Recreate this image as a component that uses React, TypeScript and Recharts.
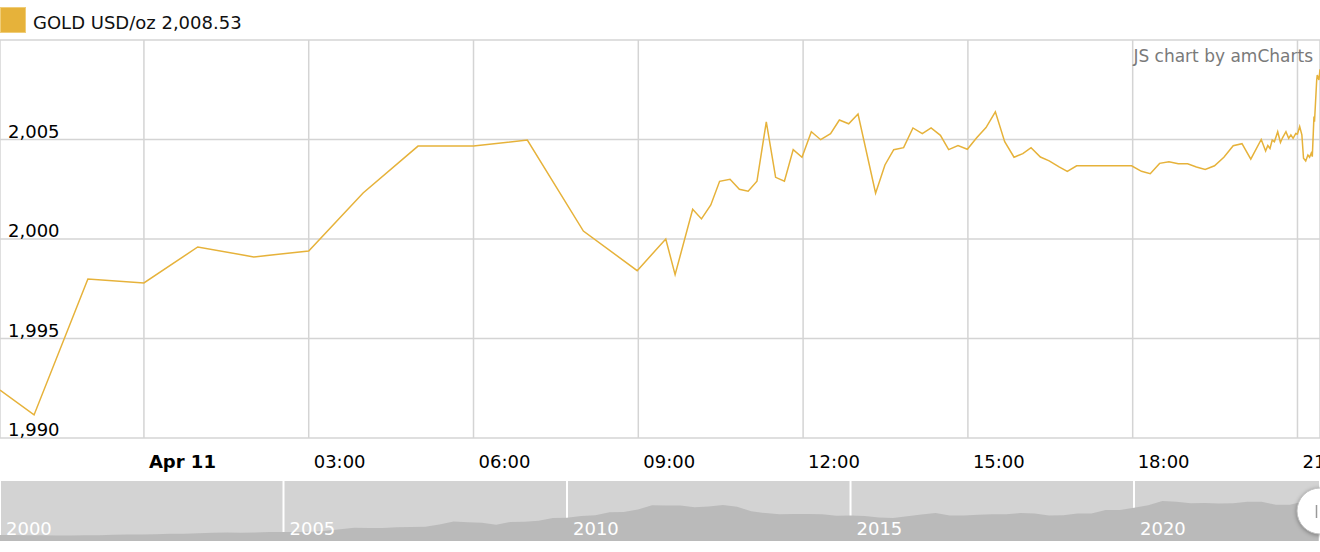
import { Area, AreaChart, CartesianGrid, Line, LineChart, XAxis, YAxis } from 'recharts';

const FONT = '"DejaVu Sans", Verdana, sans-serif';
const GOLD = '#e6b23a';

// hours from Apr 11 00:00
const HOURS = [
  -2.62, -2.0, -1.02, 0, 0.98, 2.0, 3.0, 3.99, 4.99, 6.0,
  6.98, 8.0, 8.98, 9.5, 9.67, 9.99, 10.15, 10.32, 10.48, 10.67,
  10.84, 11.0, 11.16, 11.33, 11.5, 11.66, 11.82, 11.98, 12.15, 12.32,
  12.5, 12.66, 12.83, 13.0, 13.32, 13.49, 13.65, 13.83, 14.0, 14.17,
  14.33, 14.5, 14.65, 14.82, 14.99, 15.16, 15.33, 15.5, 15.67, 15.84,
  16.0, 16.15, 16.32, 16.48, 16.66, 16.81, 16.98, 17.98, 18.16, 18.32,
  18.49, 18.66, 18.83, 19.0, 19.16, 19.32, 19.49, 19.66, 19.83, 19.99,
  20.15, 20.34, 20.42, 20.46, 20.5, 20.54, 20.58, 20.64, 20.69, 20.73,
  20.79, 20.84, 20.88, 20.92, 20.97, 21.0, 21.04, 21.08, 21.11, 21.15,
  21.19, 21.22, 21.25, 21.27, 21.3, 21.31, 21.35, 21.36, 21.39, 21.41,
];

const PRICES = [
  1992.41, 1991.16, 1997.99, 1997.79, 1999.6, 1999.1, 1999.4, 2002.31, 2004.67, 2004.67,
  2004.97, 2000.4, 1998.41, 2000.0, 1998.21, 2001.49, 2001.01, 2001.71, 2002.9, 2003.0,
  2002.5, 2002.4, 2002.9, 2005.89, 2003.1, 2002.9, 2004.49, 2004.11, 2005.39, 2004.99,
  2005.29, 2005.98, 2005.79, 2006.28, 2002.3, 2003.72, 2004.49, 2004.59, 2005.58, 2005.29,
  2005.58, 2005.21, 2004.49, 2004.69, 2004.51, 2005.09, 2005.6, 2006.39, 2004.89, 2004.11,
  2004.29, 2004.59, 2004.12, 2003.93, 2003.62, 2003.4, 2003.68, 2003.68, 2003.4, 2003.28,
  2003.8, 2003.88, 2003.78, 2003.78, 2003.62, 2003.5, 2003.68, 2004.11, 2004.69, 2004.79,
  2004.01, 2005.0, 2004.42, 2004.7, 2004.55, 2004.97, 2004.89, 2005.39, 2004.85, 2005.1,
  2005.39, 2005.06, 2005.23, 2005.06, 2005.31, 2005.28, 2005.65, 2005.23, 2004.06, 2003.92,
  2004.22, 2004.11, 2004.31, 2004.14, 2006.15, 2005.89, 2007.99, 2008.24, 2007.99, 2008.53,
];

const HOUR_TICKS = [0, 3, 6, 9, 12, 15, 18, 21];
const HOUR_LABELS = ['Apr 11', '03:00', '06:00', '09:00', '12:00', '15:00', '18:00', '21:00'];
const PRICE_TICKS = [1990, 1995, 2000, 2005, 2010];

// quarterly gold price, 2000 Q1 .. 2023 Q2 (scrollbar)
const HISTORY = [
  290, 285, 280, 272, 265, 268, 272, 278, 295, 315, 315, 320,
  350, 345, 365, 390, 410, 395, 400, 430, 428, 425, 440, 485,
  555, 630, 620, 615, 650, 665, 680, 790, 925, 895, 870, 770,
  910, 920, 960, 1100, 1110, 1195, 1225, 1370, 1385, 1505, 1700, 1690,
  1690, 1610, 1650, 1720, 1630, 1415, 1330, 1270, 1290, 1290, 1280, 1200,
  1220, 1190, 1125, 1100, 1180, 1260, 1335, 1220, 1220, 1255, 1280, 1275,
  1330, 1305, 1210, 1225, 1305, 1310, 1475, 1480, 1580, 1710, 1910, 1875,
  1795, 1815, 1790, 1795, 1875, 1870, 1730, 1725, 1890, 2005,
];
const YEAR_TICKS = [2000, 2005, 2010, 2015, 2020];

const lineData = HOURS.map((h, i) => ({ h, price: PRICES[i] }));
const historyData = HISTORY.map((v, i) => ({ year: 2000 + i / 4, v }));

function renderHourTick(props: any) {
  const { x, payload } = props;
  const i = HOUR_TICKS.indexOf(payload.value);
  return (
    <text
      key={payload.value}
      x={x + 5}
      y={468}
      fontFamily={FONT}
      fontSize={18}
      fontWeight={i === 0 ? 'bold' : 'normal'}
      fill="#000"
    >
      {HOUR_LABELS[i]}
    </text>
  );
}

function renderPriceTick(props: any) {
  const { y, payload } = props;
  if (payload.value === 2010) return <g key={payload.value} />;
  return (
    <text key={payload.value} x={8} y={y - 2} fontFamily={FONT} fontSize={18} fill="#000">
      {payload.value.toLocaleString('en-US')}
    </text>
  );
}

function renderYearTick(props: any) {
  const { x, payload } = props;
  return (
    <text key={payload.value} x={x + 6} y={54} fontFamily={FONT} fontSize={18} fill="#fff">
      {payload.value}
    </text>
  );
}

export default function App() {
  return (
    <div style={{ position: 'relative', width: 1320, height: 552, overflow: 'hidden', background: '#fff', fontFamily: FONT }}>
      <style>{'body{margin:0}'}</style>

      <LineChart width={1320} height={480} data={lineData} margin={{ top: 40, right: 0, bottom: 0, left: 0 }}>
        <CartesianGrid stroke="#d4d4d4" strokeWidth={1.5} />
        <XAxis
          dataKey="h"
          type="number"
          domain={[-2.62, 21.41]}
          ticks={HOUR_TICKS}
          interval={0}
          height={42}
          axisLine={false}
          tickLine={false}
          allowDataOverflow
          tick={renderHourTick}
        />
        <YAxis
          type="number"
          domain={[1990, 2010]}
          ticks={PRICE_TICKS}
          interval={0}
          mirror
          width={60}
          axisLine={false}
          tickLine={false}
          allowDataOverflow
          tick={renderPriceTick}
        />
        <Line
          dataKey="price"
          type="linear"
          stroke={GOLD}
          strokeWidth={1.5}
          dot={false}
          isAnimationActive={false}
        />
      </LineChart>

      <div style={{ position: 'absolute', left: 0, top: 7, width: 26, height: 26, background: GOLD, boxSizing: 'border-box', border: '1px solid #f0cd78' }} />
      <div style={{ position: 'absolute', left: 33, top: 14, fontSize: 18, lineHeight: '18px', color: '#111', whiteSpace: 'nowrap' }}>
        GOLD USD/oz 2,008.53
      </div>
      <div style={{ position: 'absolute', right: 7, top: 48, fontSize: 17, lineHeight: '17px', color: '#7a7a7a', whiteSpace: 'nowrap' }}>
        JS chart by amCharts
      </div>

      <div style={{ position: 'absolute', left: 0, top: 481, width: 1320, height: 60, background: '#d3d3d3' }}>
        <AreaChart width={1320} height={60} data={historyData} margin={{ top: 0, right: 0, bottom: 0, left: 0 }}>
          <Area
            dataKey="v"
            type="linear"
            stroke="none"
            fill="#bababa"
            fillOpacity={1}
            isAnimationActive={false}
          />
          <CartesianGrid horizontal={false} stroke="#ffffff" strokeWidth={2} />
          <XAxis
            dataKey="year"
            type="number"
            domain={[2000, 2023.28]}
            ticks={YEAR_TICKS}
            interval={0}
            mirror
            height={30}
            axisLine={false}
            tickLine={false}
            tick={renderYearTick}
          />
          <YAxis type="number" domain={[0, 2860]} hide />
        </AreaChart>
      </div>

      <svg
        width={32}
        height={60}
        style={{ position: 'absolute', left: 1288, top: 481, overflow: 'visible', filter: 'drop-shadow(0 1px 2px rgba(0,0,0,0.35))' }}
      >
        <circle cx={32} cy={30} r={23} fill="#fff" stroke="#c0c0c0" strokeWidth={1} />
        <line x1={28.5} y1={24} x2={28.5} y2={37} stroke="#999" strokeWidth={1.5} />
      </svg>
    </div>
  );
}
